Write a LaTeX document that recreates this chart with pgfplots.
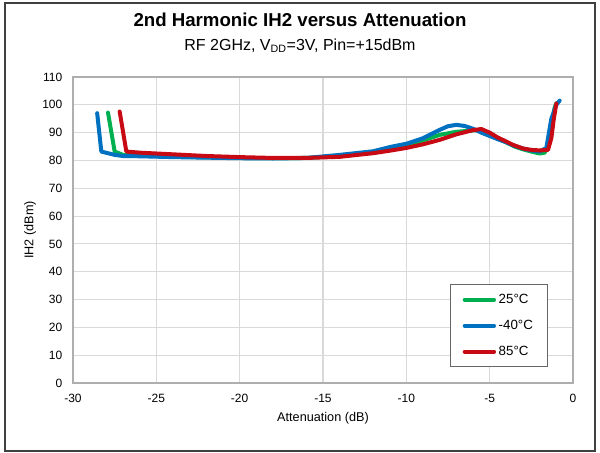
\documentclass[border=0pt]{standalone}
\usepackage{fontspec}
\setmainfont{Liberation Sans}
\usepackage{pgfplots}
\pgfplotsset{compat=1.18}
\definecolor{cgreen}{RGB}{0,176,80}
\definecolor{cblue}{RGB}{0,112,192}
\definecolor{cred}{RGB}{200,10,20}
\definecolor{cgrid}{RGB}{217,217,217}
\begin{document}
\begin{tikzpicture}[x=1pt,y=1pt]
\useasboundingbox (-54.75,-52.5) rectangle (395.25,287.25);
\draw[black!75,line width=1.1pt] (-51,-51) rectangle (391.5,285);
\node[font=\fontsize{14}{16}\selectfont\bfseries] at (170.25,272) {2nd Harmonic IH2 versus Attenuation};
\node[font=\fontsize{12}{14}\selectfont] at (170.25,253) {RF 2GHz, V\textsubscript{DD}=3V, Pin=+15dBm};
\begin{axis}[
  at={(0,0)}, anchor=south west,
  scale only axis, width=375pt, height=229.5pt,
  xmin=-30, xmax=0, ymin=0, ymax=110,
  xtick distance=5, ytick distance=10,
  grid=major, major grid style={cgrid, line width=0.8pt},
  axis line style={cgrid!80!black, line width=0.8pt},
  major tick length=0pt,
  tick label style={font=\fontsize{9}{10}\selectfont},
  xticklabel style={yshift=-5pt},
  yticklabel style={xshift=-4.5pt},
  /pgf/number format/assume math mode=true,
  xlabel={Attenuation (dB)}, ylabel={IH2 (dBm)},
  label style={font=\fontsize{9.5}{11}\selectfont},
  xlabel style={at={(axis description cs:0.5,-0.114)}, anchor=center},
  ylabel style={at={(axis description cs:-0.086,0.5)}, anchor=center},
  legend style={at={(0.95,0.052)}, anchor=south east, draw=black!60, line width=0.6pt,
    font=\fontsize{10}{12}\selectfont, row sep=7pt, inner xsep=9pt, inner ysep=5pt},
  legend cell align=left,
  legend image code/.code={\draw[#1] (0pt,0pt) -- (22pt,0pt);},
  every axis plot/.append style={line width=3pt, line join=round, line cap=round},
]
\addplot[cgreen] coordinates {
(-27.9,97.2) (-27.5,83.2) (-27,82.0) (-26,81.8) (-24,81.4) (-22,81.1) (-20,80.9) (-18,80.8) (-16,80.9) (-14,81.6) (-12,82.8) (-11.6,83.3) (-10,85.5) (-9,87.2) (-8,89.2) (-7,90.3) (-6,90.8) (-5.5,91.0) (-5,89.8) (-4.5,88.0) (-4,86.5) (-3.5,85.0) (-3,84.0) (-2.5,83.2) (-2,82.5) (-1.7,82.8) (-1.5,85) (-1.3,92) (-1.1,99) (-1.0,100.5)
};
\addlegendentry{25°C}
\addplot[cblue] coordinates {
(-28.55,97) (-28.3,83.2) (-27.5,82.0) (-27,81.6) (-26,81.5) (-24,81.2) (-22,81.0) (-20,80.8) (-18,80.7) (-16,80.9) (-14,82.0) (-12,83.3) (-11,84.8) (-10,86.0) (-9,88.0) (-8,91.0) (-7.5,92.3) (-7,92.8) (-6.5,92.4) (-6,91.4) (-5.5,90.0) (-5,88.8) (-4.5,87.6) (-4,86.5) (-3.5,85.2) (-3,84.3) (-2.5,83.6) (-2,83.2) (-1.6,84.5) (-1.3,95) (-1.0,100) (-0.8,101.5)
};
\addlegendentry{-40°C}
\addplot[cred] coordinates {
(-27.2,97.6) (-26.8,83.2) (-26,82.8) (-25,82.5) (-24,82.2) (-22,81.6) (-20,81.2) (-18,80.9) (-16,80.9) (-14,81.3) (-12,82.6) (-11,83.5) (-10,84.5) (-9,85.8) (-8,87.4) (-7,89.4) (-6,90.9) (-5.5,91.3) (-5,90.0) (-4.5,88.2) (-4,86.8) (-3.6,85.6) (-3,84.3) (-2.5,83.8) (-2,83.6) (-1.5,83.8) (-1.3,88) (-1.15,95) (-1.0,100.5)
};
\addlegendentry{85°C}
\end{axis}
\end{tikzpicture}
\end{document}
